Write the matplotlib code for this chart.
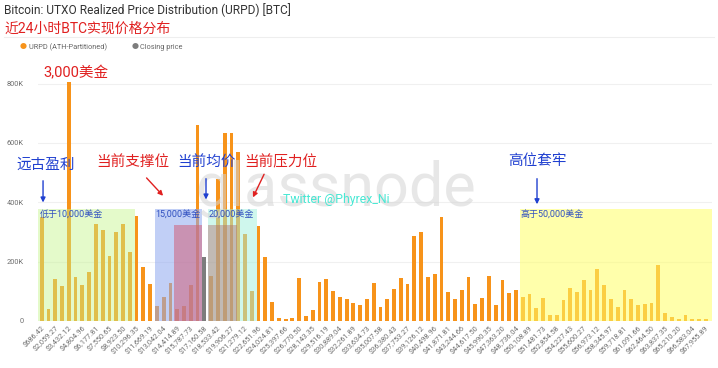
import matplotlib
matplotlib.use('Agg')

import matplotlib.pyplot as plt
from matplotlib.patches import Rectangle
import numpy as np

plt.rcParams['font.family'] = ['Roboto', 'Noto Sans CJK SC', 'DejaVu Sans']

# URPD supply per price bucket, in thousands of BTC
urpd_k = [352, 39, 141, 118, 807, 147, 121, 166, 327, 305,
          219, 299, 327, 234, 354, 183, 125, 51, 80, 129,
          41, 51, 121, 659, 214, 153, 479, 635, 635, 569,
          293, 102, 321, 217, 63, 9, 5, 10, 144, 18,
          37, 130, 140, 102, 82, 74, 60, 53, 73, 127,
          48, 75, 109, 143, 125, 287, 301, 147, 157, 352,
          98, 73, 103, 147, 57, 76, 152, 54, 138, 93,
          105, 80, 90, 45, 78, 20, 20, 69, 110, 99,
          138, 105, 175, 120, 74, 48, 105, 73, 53, 58,
          61, 189, 26, 13, 7, 21, 8, 8, 8]
closing_bucket = 24

tick_labels = ['$686.42', '$2,059.27', '$3,432.12', '$4,804.96', '$6,177.81',
               '$7,550.65', '$8,923.50', '$10,296.35', '$11,669.19', '$13,042.04',
               '$14,414.89', '$15,787.73', '$17,160.58', '$18,533.42', '$19,906.27',
               '$21,279.12', '$22,651.96', '$24,024.81', '$25,397.66', '$26,770.50',
               '$28,143.35', '$29,516.19', '$30,889.04', '$32,261.89', '$33,634.73',
               '$35,007.58', '$36,380.43', '$37,753.27', '$39,126.12', '$40,498.96',
               '$41,871.81', '$43,244.66', '$44,617.50', '$45,990.35', '$47,363.20',
               '$48,736.04', '$50,108.89', '$51,481.73', '$52,854.58', '$54,227.43',
               '$55,600.27', '$56,973.12', '$58,345.97', '$59,718.81', '$61,091.66',
               '$62,464.50', '$63,837.35', '$65,210.20', '$66,583.04', '$67,955.89']

# shaded zones: (x0, x1, top in K, colour, alpha)
zones = [(-0.6, 13.8, 378, '#c4f58a', 0.45),
         (16.7, 23.65, 378, '#8fa8f0', 0.55),
         (24.5, 31.8, 378, '#a0f0dc', 0.5),
         (70.6, 98.9, 378, '#ffff66', 0.55),
         (19.5, 23.65, 324, '#d0607a', 0.55),
         (24.5, 28.8, 324, '#b07070', 0.45)]

zone_texts = [(-0.3, '低于10,000美金'), (16.8, '15,000美金'),
              (24.6, '20,000美金'), (70.7, '高于50,000美金')]


def main():
    fig = plt.figure(figsize=(7.18, 3.68), dpi=100)
    ax = fig.add_axes([0.0524, 0.128, 0.9390, 0.701])

    vals = np.array(urpd_k) * 1000
    x = np.arange(len(vals))
    colors = ['#f7931a'] * len(vals)
    colors[closing_bucket] = '#7d7d7d'
    ax.bar(x, vals, width=0.56, color=colors, zorder=2)

    for x0, x1, top, c, a in zones:
        ax.add_patch(Rectangle((x0, 0), x1 - x0, top * 1000, facecolor=c,
                               alpha=a, edgecolor='none', zorder=3))
    for xt, s in zone_texts:
        ax.text(xt, 372000, s, fontsize=6.5, color='#3050c0', va='top',
                ha='left', zorder=5)

    ax.set_xlim(-0.6, 98.9)
    ax.set_ylim(0, 870000)
    ax.set_yticks([0, 200000, 400000, 600000, 800000])
    ax.set_yticklabels(['0', '200K', '400K', '600K', '800K'])
    ax.set_xticks(x[::2])
    ax.set_xticklabels(tick_labels, rotation=45, ha='right',
                       rotation_mode='anchor')
    ax.tick_params(axis='both', length=0, labelsize=5.3, colors='#6f6f6f')
    ax.tick_params(axis='y', pad=10)
    ax.tick_params(axis='x', pad=3)
    ax.grid(axis='y', color='#f0f0f0', lw=0.8, zorder=0)
    for sp in ax.spines.values():
        sp.set_visible(False)

    # watermarks
    ax.text(22.6, 445000, 'glassnode', fontsize=44, color='#d4d4d4', alpha=0.55,
            ha='left', va='center', zorder=4)
    ax.text(35.6, 408000, 'Twitter @Phyrex_Ni', fontsize=8.8, color='#48e8d4',
            ha='left', va='center', zorder=5)

    # annotations
    ax.text(5.0, 835000, '3,000美金', fontsize=10.5, color='#e02020',
            ha='center', va='center', zorder=6)
    notes = [('远古盈利', '#2040d0', (0.6, 528000), (0.2, 482000), (0.2, 390000)),
             ('当前支撑位', '#e02020', (13.4, 535000), (15.2, 489000), (18.2, 415000)),
             ('当前均价', '#2040d0', (24.4, 535000), (24.25, 489000), (24.25, 400000)),
             ('当前压力位', '#e02020', (35.3, 535000), (33.0, 503000), (31.0, 408000)),
             ('高位套牢', '#2040d0', (73.1, 538000), (73.1, 489000), (73.1, 384000))]
    for s, c, tpos, a0, a1 in notes:
        ax.text(tpos[0], tpos[1], s, fontsize=10.5, color=c, ha='center',
                va='center', zorder=6)
        ax.annotate('', xy=a1, xytext=a0,
                    arrowprops=dict(arrowstyle='-|>', color=c, lw=1.0,
                                    mutation_scale=7), zorder=6)

    # title + legend
    fig.text(0.006, 0.972, 'Bitcoin: UTXO Realized Price Distribution (URPD) [BTC]',
             fontsize=8.6, color='#333333', va='center', ha='left')
    fig.text(0.006, 0.922, '近24小时BTC实现价格分布', fontsize=10,
             color='#e02020', va='center', ha='left')
    fig.add_artist(plt.Line2D([0.005, 0.995], [0.9, 0.9], color='#eeeeee', lw=0.8))
    fig.text(0.028, 0.872, '●', fontsize=5, color='#f7931a', va='center')
    fig.text(0.04, 0.872, 'URPD (ATH-Partitioned)', fontsize=5.3,
             color='#666666', va='center')
    fig.text(0.183, 0.872, '●', fontsize=5, color='#7d7d7d', va='center')
    fig.text(0.195, 0.872, 'Closing price', fontsize=5.3, color='#666666',
             va='center')

    fig.savefig('out.png', dpi=100)
    plt.close(fig)


if __name__ == '__main__':
    main()
